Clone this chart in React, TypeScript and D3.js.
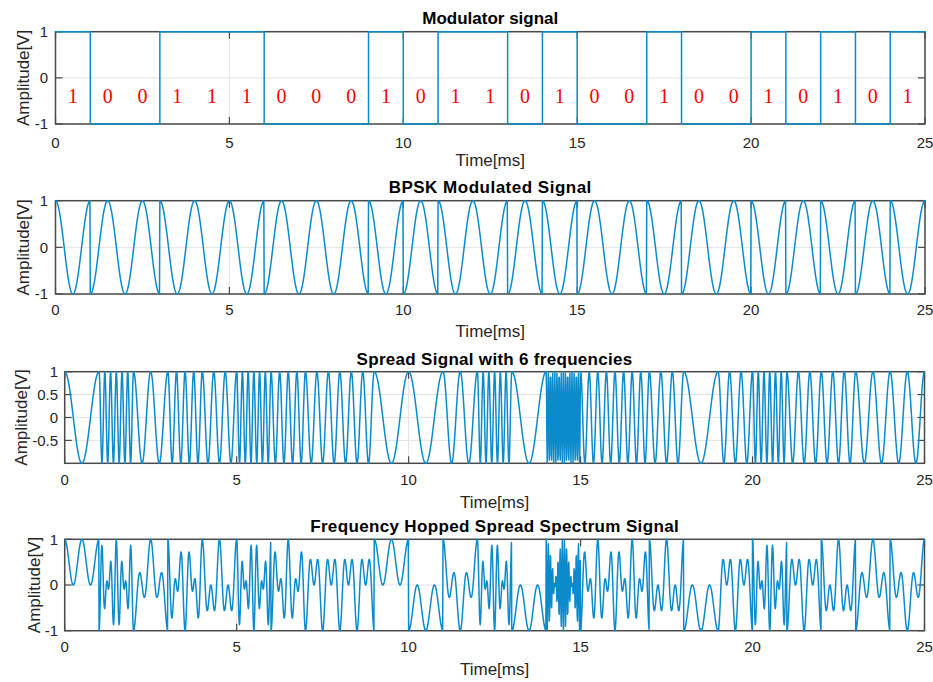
import React from "react";
import * as d3 from "d3";

// ---------- data ----------
const bits = [1, 0, 0, 1, 1, 1, 0, 0, 0, 1, 0, 1, 1, 0, 1, 0, 0, 1, 0, 0, 1, 0, 1, 0, 1];
// hop frequency (cycles per ms) used in each 1 ms slot of the spread signal
const hopFreqs = [1, 6, 2, 4, 3, 6, 4, 3, 3, 1, 1, 2, 6, 1, 16, 4, 4, 3, 1, 3, 6, 3, 3, 2, 2];
const carrierFreq = 1; // kHz -> cycles per ms
const samplesPerMs = 100;
const timeTicks = [0, 5, 10, 15, 20, 25];
const ampTicks = [-1, 0, 1];
const ampTicksFine = [-0.5, 0, 0.5, 1];
const titles = [
  "Modulator signal",
  "BPSK Modulated Signal",
  "Spread Signal with 6 frequencies",
  "Frequency Hopped Spread Spectrum Signal",
];
const xLabel = "Time[ms]";
const yLabel = "Amplitude[V]";

// ---------- derived signals ----------
const nBits = bits.length;
const times = d3.range(0, nBits * samplesPerMs + 1).map((i) => i / samplesPerMs);
const slotOf = (t: number) => Math.min(nBits - 1, Math.floor(t + 1e-9));
const bpsk = times.map((t) => ({ t, v: (2 * bits[slotOf(t)] - 1) * Math.cos(2 * Math.PI * carrierFreq * t) }));
const spread = times.map((t) => ({ t, v: Math.cos(2 * Math.PI * hopFreqs[slotOf(t)] * t) }));
const fhss = times.map((t, i) => ({ t, v: bpsk[i].v * spread[i].v }));
const stepData = bits.map((b, i) => ({ t: i, v: 2 * b - 1 })).concat([{ t: nBits, v: 2 * bits[nBits - 1] - 1 }]);

const FONT = "'Liberation Sans', Arial, sans-serif";
const BLUE = "#0b8bcc";
const AXIS = "#4a4a4a";
const GRID = "#e3e3e3";
const TXT = "#262626";

type Panel = {
  left: number; right: number; top: number; bottom: number;
  title: string; titleY: number; titleSpacing: number;
  yTicks: number[]; yTickRight: number; tickY: number; xLabelY: number; yLabelX: number;
  data: { t: number; v: number }[]; step?: boolean; bitLabels?: boolean;
};

const panels: Panel[] = [
  { left: 55.5, right: 925, top: 31.7, bottom: 124, title: titles[0], titleY: 24, titleSpacing: 0,
    yTicks: ampTicks, yTickRight: 48, tickY: 148, xLabelY: 166, yLabelX: 29, data: stepData, step: true, bitLabels: true },
  { left: 55.5, right: 925, top: 200.7, bottom: 294, title: titles[1], titleY: 193, titleSpacing: 0.5,
    yTicks: ampTicks, yTickRight: 48, tickY: 315, xLabelY: 337, yLabelX: 29, data: bpsk },
  { left: 64.7, right: 924.5, top: 371.7, bottom: 463.3, title: titles[2], titleY: 365, titleSpacing: 0.3,
    yTicks: ampTicksFine, yTickRight: 58, tickY: 485, xLabelY: 508, yLabelX: 26.7, data: spread },
  { left: 64.7, right: 924.5, top: 539.3, bottom: 630.7, title: titles[3], titleY: 532, titleSpacing: 0.35,
    yTicks: ampTicks, yTickRight: 58, tickY: 651.5, xLabelY: 675, yLabelX: 40, data: fhss },
];

function PanelView({ p }: { p: Panel }) {
  const x = d3.scaleLinear().domain([0, nBits]).range([p.left, p.right]);
  const y = d3.scaleLinear().domain([-1, 1]).range([p.bottom, p.top]);
  const line = d3
    .line<{ t: number; v: number }>()
    .x((d) => x(d.t))
    .y((d) => y(d.v))
    .curve(p.step ? d3.curveStepAfter : d3.curveLinear);
  const tl = 7;
  const cx = (p.left + p.right) / 2;
  return (
    <g>
      {/* grid */}
      {timeTicks.map((t) => (
        <line key={"gx" + t} x1={x(t)} x2={x(t)} y1={p.top} y2={p.bottom} stroke={GRID} strokeWidth={1} />
      ))}
      {p.yTicks.map((v) => (
        <line key={"gy" + v} x1={p.left} x2={p.right} y1={y(v)} y2={y(v)} stroke={GRID} strokeWidth={1} />
      ))}
      {/* ticks */}
      {timeTicks.map((t) => (
        <g key={"tx" + t}>
          <line x1={x(t)} x2={x(t)} y1={p.bottom} y2={p.bottom - tl} stroke={AXIS} strokeWidth={1.2} />
          <line x1={x(t)} x2={x(t)} y1={p.top} y2={p.top + tl} stroke={AXIS} strokeWidth={1.2} />
          <text x={x(t)} y={p.tickY} textAnchor="middle" fontSize={15} fill={TXT} fontFamily={FONT}>
            {t}
          </text>
        </g>
      ))}
      {p.yTicks.map((v) => (
        <g key={"ty" + v}>
          <line x1={p.left} x2={p.left + tl} y1={y(v)} y2={y(v)} stroke={AXIS} strokeWidth={1.2} />
          <line x1={p.right} x2={p.right - tl} y1={y(v)} y2={y(v)} stroke={AXIS} strokeWidth={1.2} />
          <text x={p.yTickRight} y={y(v)} dy="0.35em" textAnchor="end" fontSize={15} fill={TXT} fontFamily={FONT}>
            {v}
          </text>
        </g>
      ))}
      {/* box */}
      <rect x={p.left} y={p.top} width={p.right - p.left} height={p.bottom - p.top} fill="none" stroke={AXIS} strokeWidth={1.5} />
      {/* signal */}
      <path d={line(p.data) || ""} fill="none" stroke={BLUE} strokeWidth={1.5} strokeLinejoin="round" />
      {p.bitLabels &&
        bits.map((b, i) => (
          <text key={"b" + i} x={x(i + 0.5)} y={y(-0.55)} textAnchor="middle" fontSize={20} fill="#ff0000"
            fontFamily="'Liberation Serif', 'Times New Roman', serif">
            {b}
          </text>
        ))}
      {/* labels */}
      <text x={cx} y={p.titleY} textAnchor="middle" fontSize={17} fontWeight="bold" fill="#000" fontFamily={FONT}
        letterSpacing={p.titleSpacing}>
        {p.title}
      </text>
      <text x={cx} y={p.xLabelY} textAnchor="middle" fontSize={17} fill={TXT} fontFamily={FONT}>
        {xLabel}
      </text>
      <text transform={`translate(${p.yLabelX},${(p.top + p.bottom) / 2}) rotate(-90)`} textAnchor="middle" fontSize={17}
        fill={TXT} fontFamily={FONT}>
        {yLabel}
      </text>
    </g>
  );
}

export default function App() {
  return (
    <div style={{ position: "absolute", left: 0, top: 0 }}>
      <svg width={933} height={682} style={{ display: "block", background: "#fff" }}>
        {panels.map((p, i) => (
          <PanelView key={i} p={p} />
        ))}
      </svg>
    </div>
  );
}
